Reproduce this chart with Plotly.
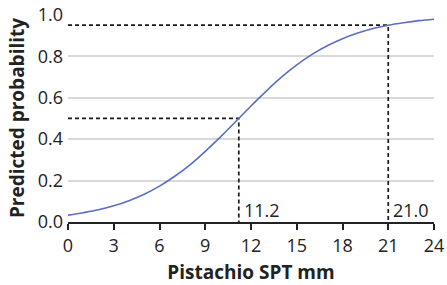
import plotly.graph_objects as go

spt_mm = list(range(0, 25))
predicted_prob = [0.033, 0.045, 0.059, 0.078, 0.103, 0.134, 0.173, 0.221, 0.276,
                  0.341, 0.411, 0.485, 0.560, 0.632, 0.699, 0.758, 0.809, 0.851,
                  0.885, 0.912, 0.934, 0.950, 0.962, 0.972, 0.979]

cutoff_x = [11.2, 21.0]
cutoff_p = [0.5, 0.95]
cutoff_labels = ["11.2", "21.0"]

x_ticks = [0, 3, 6, 9, 12, 15, 18, 21, 24]
y_ticks = [0.0, 0.2, 0.4, 0.6, 0.8, 1.0]
y_tick_labels = ["0.0", "0.2", "0.4", "0.6", "0.8", "1.0"]

FONT = "Open Sans"

fig = go.Figure()

for cx, cp in zip(cutoff_x, cutoff_p):
    fig.add_trace(go.Scatter(x=[0, cx, cx], y=[cp, cp, 0], mode="lines",
                             line=dict(color="#1a1a1a", width=1.7, dash="4px,3px"),
                             hoverinfo="skip", showlegend=False))

fig.add_trace(go.Scatter(x=spt_mm, y=predicted_prob, mode="lines",
                         line=dict(color="#5b6ec0", width=1.6, shape="spline"),
                         showlegend=False))

for cx, lab in zip(cutoff_x, cutoff_labels):
    fig.add_annotation(x=cx, y=0, text=lab, showarrow=False, xanchor="left",
                       yanchor="bottom", xshift=3, yshift=-2,
                       font=dict(family=FONT, size=18, color="#222222"))

fig.update_layout(
    width=447, height=285,
    margin=dict(l=68, r=13, t=14, b=63),
    plot_bgcolor="white", paper_bgcolor="white",
    font=dict(family=FONT, size=18, color="#222222"),
    xaxis=dict(range=[0, 24], tickvals=x_ticks, ticks="outside", ticklen=6,
               tickwidth=1.5, tickcolor="#222222", showline=True, linewidth=1.8,
               linecolor="#222222", showgrid=False, zeroline=False, automargin=False,
               title=dict(text="<b>Pistachio SPT mm</b>", standoff=18,
                          font=dict(family=FONT, size=19))),
    yaxis=dict(range=[0, 1.004], tickvals=y_ticks, ticktext=y_tick_labels,
               showgrid=True, gridcolor="#d9d9d9", gridwidth=1.5, zeroline=False,
               showline=False, ticks="", ticklabelstandoff=4, automargin=False,
               title=dict(text="<b>Predicted probability</b>", standoff=8,
                          font=dict(family=FONT, size=19))),
)

fig.write_html("out.html", config={"displayModeBar": False},
               post_script="document.body.style.margin='0';")
